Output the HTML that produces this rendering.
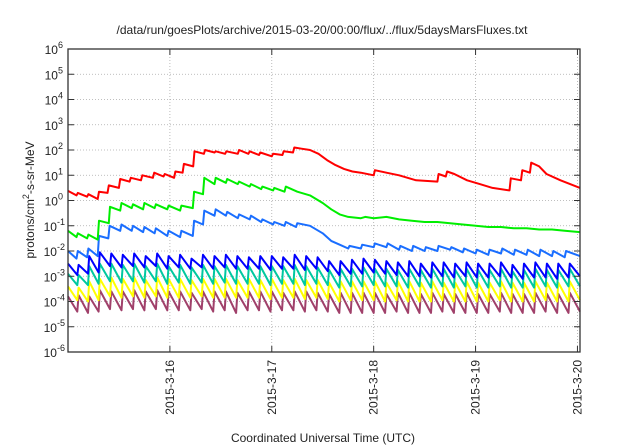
<!DOCTYPE html>
<html><head><meta charset="utf-8"><style>
body{margin:0;background:#fff;}
svg{display:block;font-family:"Liberation Sans",sans-serif;}
</style></head><body>
<svg id="chart" width="640" height="448" viewBox="0 0 640 448">
<text x="322" y="34" font-size="12" text-anchor="middle" fill="#222">/data/run/goesPlots/archive/2015-03-20/00:00/flux/../flux/5daysMarsFluxes.txt</text>
<g id="grid"></g>
<g id="series"></g>
<rect x="68" y="49" width="512" height="303" fill="none" stroke="#333" stroke-width="1.3"/>
<g id="axes"></g>
<text transform="translate(34,200) rotate(-90)" font-size="12" text-anchor="middle" fill="#222">protons/cm<tspan dy="-5" font-size="9">2</tspan><tspan dy="5">-s-sr-MeV</tspan></text>
<text x="323" y="442" font-size="12" text-anchor="middle" fill="#222">Coordinated Universal Time (UTC)</text>
</svg>
<script>
const xTickHours=[24,48,72,96,120];
const xTickLabels=["2015-3-16","2015-3-17","2015-3-18","2015-3-19","2015-3-20"];
const yTickExps=[-6,-5,-4,-3,-2,-1,0,1,2,3,4,5,6];
const toothTimes=[0,2.5,5,7.5,10.2,12.9,15.6,18.3,21,23.7,26.4,29.1,31.8,34.5,37.2,39.9,42.6,45.3,48,50.7,53.4,56.1,58.8,61.5,64.2,66.9,69.6,72.3,75,77.7,80.4,83.1,85.8,88.5,91.2,93.9,96.6,99.3,102,104.7,107.4,110.1,112.8,115.5,118.2];
const endHour=120.6;
const bluePeaks=[-2.5,-2.55,-2.2,-2.05,-2.1,-2.15,-2.1,-2.2,-2.1,-2.2,-2.15,-2.3,-2.15,-2.2,-2.15,-2.2,-2.25,-2.2,-2.2,-2.25,-2.15,-2.2,-2.25,-2.4,-2.4,-2.35,-2.3,-2.35,-2.4,-2.45,-2.4,-2.5,-2.45,-2.45,-2.5,-2.45,-2.5,-2.5,-2.45,-2.55,-2.5,-2.45,-2.5,-2.5,-2.5];
const blueTroughs=[-2.95,-2.9,-2.85,-2.6,-2.65,-2.6,-2.65,-2.6,-2.7,-2.65,-2.7,-2.65,-2.7,-2.65,-2.7,-2.7,-2.7,-2.75,-2.7,-2.7,-2.75,-2.7,-2.8,-2.95,-2.9,-2.9,-2.85,-2.9,-2.95,-3.0,-3.0,-3.05,-3.0,-3.05,-3.0,-3.05,-3.05,-3.0,-3.05,-3.1,-3.05,-3.05,-3.1,-3.05,-3.0];
const tealPeaks=[-2.9,-2.95,-2.6,-2.5,-2.5,-2.55,-2.5,-2.6,-2.5,-2.6,-2.55,-2.65,-2.55,-2.6,-2.55,-2.6,-2.6,-2.6,-2.6,-2.6,-2.55,-2.6,-2.65,-2.75,-2.7,-2.7,-2.65,-2.7,-2.7,-2.75,-2.7,-2.75,-2.7,-2.7,-2.75,-2.7,-2.75,-2.75,-2.7,-2.8,-2.75,-2.7,-2.75,-2.75,-2.7];
const tealTroughs=[-3.35,-3.35,-3.3,-3.2,-3.25,-3.2,-3.25,-3.2,-3.3,-3.25,-3.3,-3.25,-3.3,-3.25,-3.3,-3.3,-3.3,-3.35,-3.3,-3.3,-3.35,-3.3,-3.35,-3.45,-3.4,-3.4,-3.35,-3.4,-3.4,-3.45,-3.4,-3.45,-3.4,-3.45,-3.4,-3.45,-3.45,-3.4,-3.45,-3.45,-3.45,-3.4,-3.45,-3.4,-3.4];
const yellowPeaks=[-3.4,-3.45,-3.2,-3.1,-3.05,-3.1,-3.05,-3.15,-3.05,-3.1,-3.1,-3.15,-3.1,-3.1,-3.1,-3.15,-3.1,-3.15,-3.1,-3.15,-3.1,-3.15,-3.15,-3.25,-3.2,-3.2,-3.2,-3.2,-3.25,-3.2,-3.2,-3.25,-3.2,-3.25,-3.25,-3.2,-3.25,-3.25,-3.2,-3.25,-3.25,-3.2,-3.25,-3.25,-3.2];
const yellowTroughs=[-3.95,-4.0,-3.95,-3.8,-3.85,-3.8,-3.85,-3.8,-3.85,-3.85,-3.85,-3.8,-3.85,-3.85,-3.85,-3.85,-3.85,-3.9,-3.85,-3.85,-3.9,-3.85,-3.9,-4.0,-3.95,-3.95,-3.95,-4.0,-3.95,-4.0,-4.0,-4.0,-3.95,-4.0,-4.0,-4.0,-4.0,-3.95,-4.0,-4.0,-4.0,-3.95,-4.0,-4.0,-3.95];
const purplePeaks=[-3.8,-3.75,-3.8,-3.55,-3.6,-3.6,-3.55,-3.6,-3.55,-3.6,-3.6,-3.65,-3.6,-3.6,-3.6,-3.65,-3.6,-3.6,-3.6,-3.65,-3.6,-3.6,-3.65,-3.7,-3.65,-3.65,-3.65,-3.65,-3.7,-3.65,-3.65,-3.7,-3.65,-3.7,-3.7,-3.65,-3.7,-3.7,-3.65,-3.7,-3.7,-3.65,-3.7,-3.7,-3.65];
const purpleTroughs=[-4.4,-4.45,-4.4,-4.3,-4.35,-4.3,-4.35,-4.3,-4.35,-4.35,-4.35,-4.3,-4.4,-4.35,-4.45,-4.35,-4.35,-4.4,-4.35,-4.35,-4.4,-4.35,-4.4,-4.45,-4.45,-4.45,-4.45,-4.45,-4.4,-4.45,-4.45,-4.45,-4.4,-4.45,-4.45,-4.45,-4.45,-4.4,-4.45,-4.45,-4.45,-4.4,-4.45,-4.45,-4.4];
const lightBlueHours=[0,2,2.3,4.5,4.8,7,7.3,9.5,9.8,12.3,12.6,15,15.3,17.7,18,20.4,20.7,23.4,23.7,26.4,26.7,29.4,29.7,31.8,32.1,34.5,34.8,37.2,37.5,40,40.3,42.8,43.1,45.5,45.8,48.3,48.6,51,51.3,53.7,54,57,60,62,64,66,66.3,69,69.3,72,72.3,75,75.3,78,78.3,81,81.3,84,84.3,87,87.3,90,90.3,93,93.3,96,96.3,99,99.3,102,102.3,105,105.3,108,108.3,111,111.3,114,114.3,117,117.3,120.6];
const lightBlueLog=[-2.0,-2.3,-2.0,-2.25,-1.9,-2.2,-1.4,-1.5,-1.0,-1.2,-0.95,-1.2,-1.0,-1.25,-1.05,-1.3,-1.1,-1.4,-1.2,-1.45,-1.2,-1.4,-0.8,-0.95,-0.4,-0.6,-0.35,-0.6,-0.45,-0.7,-0.55,-0.75,-0.6,-0.85,-0.75,-0.95,-0.85,-1.0,-0.85,-1.05,-0.9,-1.0,-1.3,-1.6,-1.75,-1.9,-1.8,-1.9,-1.75,-1.85,-1.7,-1.85,-1.7,-1.95,-1.8,-2.0,-1.8,-2.0,-1.85,-2.0,-1.8,-1.95,-1.85,-2.05,-1.9,-2.1,-1.95,-2.15,-1.95,-2.1,-1.9,-2.15,-1.95,-2.15,-1.95,-2.2,-1.95,-2.2,-2.0,-2.25,-2.0,-2.2];
const greenHours=[0,2,2.3,4.5,4.8,7,7.3,9.6,9.9,12.3,12.6,15,15.3,17.7,18,20.4,20.7,23.4,23.7,26.4,26.7,29.4,29.7,31.8,32.1,34.5,34.8,37.2,37.5,40,40.3,42.8,43.1,45.5,45.8,48.3,48.6,51,51.3,54,57,60,62,64,66,69,70,72,75,78,81,84,87,90,93,96,99,102,105,108,111,114,117,120.6];
const greenLog=[-1.2,-1.45,-1.3,-1.5,-1.35,-1.55,-0.8,-0.9,-0.25,-0.4,-0.1,-0.3,-0.15,-0.35,-0.1,-0.3,-0.15,-0.35,-0.2,-0.4,-0.2,-0.3,0.35,0.25,0.9,0.65,0.9,0.7,0.85,0.65,0.75,0.55,0.65,0.45,0.55,0.4,0.5,0.35,0.55,0.35,0.2,-0.1,-0.35,-0.55,-0.65,-0.7,-0.65,-0.7,-0.65,-0.75,-0.8,-0.85,-0.85,-0.9,-0.95,-1.0,-1.05,-1.05,-1.1,-1.1,-1.15,-1.15,-1.2,-1.25];
const redHours=[0,2,2.3,4.5,4.8,7,7.3,9.3,9.6,12,12.3,14.5,14.8,17.2,17.5,20,20.3,22.5,22.8,25,25.3,27,27.3,29.5,29.8,32,32.3,34.5,34.8,37,37.3,40,40.3,42.5,42.8,45,45.3,48,48.3,50.5,50.8,53,53.3,55,57,59,61,63,65,67,69,72,72.3,75,78,82,87,87.3,89,89.3,91,94,97,100,104,104.3,106.7,107,108.8,109.1,111,112.7,116,120.6];
const redLog=[0.38,0.2,0.3,0.15,0.25,0.06,0.35,0.3,0.6,0.5,0.85,0.75,0.9,0.8,1.0,0.9,1.1,0.95,1.05,0.9,1.15,1.1,1.45,1.35,1.95,1.85,2.0,1.9,1.95,1.85,1.95,1.85,2.0,1.85,1.95,1.8,1.9,1.75,1.85,1.8,1.95,1.9,2.1,2.05,2.0,1.85,1.6,1.4,1.25,1.15,1.1,1.0,1.2,1.1,1.0,0.8,0.75,1.05,0.95,1.15,1.05,0.8,0.65,0.5,0.4,0.88,0.8,1.2,1.1,1.5,1.35,1.05,0.8,0.5];

const X0=68,X1=580,Y0=352,Y1=49;
const xs=h=>X0+h/endHour*(X1-X0);
const ys=l=>Y0-(l+6)/12*(Y0-Y1);
const NS="http://www.w3.org/2000/svg";
const grid=document.getElementById('grid'),axes=document.getElementById('axes'),ser=document.getElementById('series');
function mk(tag,attrs,parent){const e=document.createElementNS(NS,tag);for(const k in attrs)e.setAttribute(k,attrs[k]);parent.appendChild(e);return e;}
yTickExps.forEach(e=>{
  const y=ys(e);
  if(e>-6&&e<6){const g=mk('line',{x1:X0,x2:X1,y1:y,y2:y,stroke:'#aaa','stroke-width':0.8,'stroke-dasharray':'1,2'},grid);
  
  }
  const t1=mk('line',{x1:X0,x2:X0+6,y1:y,y2:y,stroke:'#333'},axes);
  
  
  const t2=mk('line',{x1:X1-6,x2:X1,y1:y,y2:y,stroke:'#333'},axes);
  
  
  const tx=mk('text',{x:X0-5,y:y+5,'font-size':12,'text-anchor':'end',fill:'#222'},axes);
  
  
  tx.innerHTML='10<tspan dy="-6" font-size="9">'+e+'</tspan>';
  if(e<0){tx.setAttribute('x',X0-3);}
});
xTickHours.forEach((h,i)=>{
  const x=xs(h);
  const g=mk('line',{x1:x,x2:x,y1:Y0,y2:Y1,stroke:'#aaa','stroke-width':0.8,'stroke-dasharray':'1,2'},grid);
  
  
  const t1=mk('line',{x1:x,x2:x,y1:Y0,y2:Y0-6,stroke:'#333'},axes);
  
  
  const t2=mk('line',{x1:x,x2:x,y1:Y1,y2:Y1+6,stroke:'#333'},axes);
  
  
  const tx=mk('text',{transform:'translate('+(x+4)+',360) rotate(-90)','font-size':12,'text-anchor':'end',fill:'#222'},axes);
  
  
  tx.textContent=xTickLabels[i];
});
function line(hours,logs,color,name){
  const d=hours.map((h,i)=>(i?'L':'M')+xs(h).toFixed(1)+','+ys(logs[i]).toFixed(1)).join('');
  const p=mk('path',{d:d,fill:'none',stroke:color,'stroke-width':2,'stroke-linejoin':'round'},ser);
  
  
}
function saw(peaks,troughs,color,name){
  const hs=[],ls=[];
  toothTimes.forEach((t,i)=>{
    const nt=i+1<toothTimes.length?toothTimes[i+1]-0.3:endHour;
    hs.push(t,nt);ls.push(peaks[i],troughs[i]);
  });
  line(hs,ls,color,name);
}
saw(purplePeaks,purpleTroughs,'#a0406a','series-purple');
saw(yellowPeaks,yellowTroughs,'#ffff00','series-yellow');
saw(tealPeaks,tealTroughs,'#00c8a0','series-teal');
saw(bluePeaks,blueTroughs,'#0000ff','series-blue');
line(lightBlueHours,lightBlueLog,'#1a6eff','series-light-blue');
line(greenHours,greenLog,'#00ee00','series-green');
line(redHours,redLog,'#ff0000','series-red');
</script>
</body></html>
